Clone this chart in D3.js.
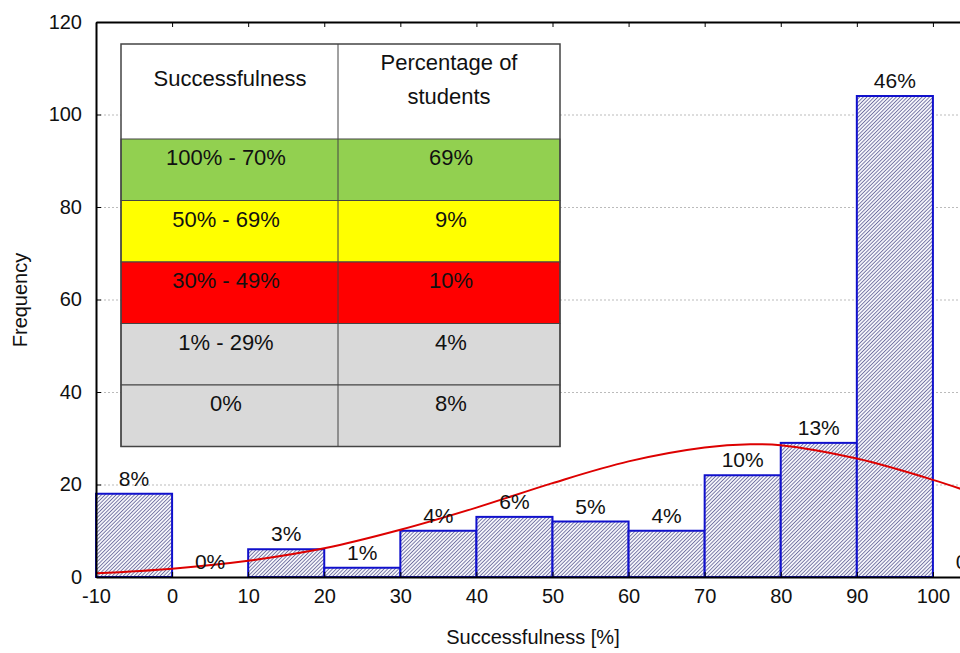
<!DOCTYPE html>
<html>
<head>
<meta charset="utf-8">
<script src="https://cdn.jsdelivr.net/npm/d3@7"></script>
<style>
  body { margin: 0; background: #fff; }
  svg text { font-family: Arial, "Liberation Sans", sans-serif; fill: #111; }
</style>
</head>
<body>
<svg id="chart" width="960" height="653"></svg>
<script>
// histogram bins (lower edge), counts and labels
var binStart = [-10, 0, 10, 20, 30, 40, 50, 60, 70, 80, 90, 100];
var counts   = [18, 0, 6, 2, 10, 13, 12, 10, 22, 29, 104, 0];
var pctLabels = ["8%", "0%", "3%", "1%", "4%", "6%", "5%", "4%", "10%", "13%", "46%", "0%"];

// fitted curve
var curveX = [-10, 0, 10, 20, 30, 40, 50, 60, 70, 76, 80, 90, 100, 110];
var curveY = [0.8, 1.8, 3.5, 6.2, 10.2, 15, 20.3, 25, 28.0, 28.7, 28.5, 25.6, 21, 15.5];

var xTicks = [-10, 0, 10, 20, 30, 40, 50, 60, 70, 80, 90, 100];
var yTicks = [0, 20, 40, 60, 80, 100, 120];

// table inside the plot
var tableHead = ["Successfulness", "Percentage of|students"];
var tableRange = ["100% - 70%", "50% - 69%", "30% - 49%", "1% - 29%", "0%"];
var tablePct = ["69%", "9%", "10%", "4%", "8%"];
var tableColors = ["#92d050", "#ffff00", "#ff0000", "#d9d9d9", "#d9d9d9"];

var svg = d3.select("#chart");
var plotLeft = 96, plotTop = 22, plotBottom = 577;

var x = d3.scaleLinear().domain([-10, 110]).range([plotLeft, 1009]);
var y = d3.scaleLinear().domain([0, 120]).range([plotBottom, plotTop]);

// hatch pattern
var defs = svg.append("defs");
var pat = defs.append("pattern")
	.attr("id", "hatch")
	.attr("patternUnits", "userSpaceOnUse")
	.attr("width", 2.6)
	.attr("height", 2.6)
	.attr("patternTransform", "rotate(45)");
pat.append("rect").attr("width", 2.6).attr("height", 2.6).attr("fill", "#f4f4fa");
pat.append("line")
	.attr("x1", 0).attr("y1", 0).attr("x2", 0).attr("y2", 2.6)
	.attr("stroke", "#24246e")
	.attr("stroke-width", 1.1);

// gridlines
svg.append("g")
	.selectAll("line")
	.data(yTicks.filter(function(d) { return d > 0 && d < 120; }))
	.enter().append("line")
	.attr("x1", plotLeft).attr("x2", 960)
	.attr("y1", function(d) { return y(d) + 0.5; })
	.attr("y2", function(d) { return y(d) + 0.5; })
	.attr("stroke", "#bbb")
	.attr("stroke-dasharray", "2,2");

// bars
svg.append("g")
	.selectAll("rect")
	.data(counts)
	.enter().append("rect")
	.attr("x", function(d, i) { return x(binStart[i]); })
	.attr("y", function(d) { return y(d); })
	.attr("width", function(d, i) { return x(binStart[i] + 10) - x(binStart[i]); })
	.attr("height", function(d) { return plotBottom - y(d); })
	.attr("fill", "url(#hatch)")
	.attr("stroke", function(d) { return d > 0 ? "#1010cc" : "none"; })
	.attr("stroke-width", 2);

// table
var tx0 = 121, tx1 = 338, tx2 = 560;
var headH = 95, rowH = 61.5, ty0 = 44;
var tbl = svg.append("g");
tbl.append("rect")
	.attr("x", tx0).attr("y", ty0)
	.attr("width", tx2 - tx0).attr("height", headH)
	.attr("fill", "#fff");
tbl.selectAll(".row")
	.data(tableRange)
	.enter().append("rect")
	.attr("class", "row")
	.attr("x", tx0)
	.attr("y", function(d, i) { return ty0 + headH + i * rowH; })
	.attr("width", tx2 - tx0)
	.attr("height", rowH)
	.attr("fill", function(d, i) { return tableColors[i]; })
	.attr("stroke", "#444")
	.attr("stroke-width", 1);
tbl.append("rect")
	.attr("x", tx0).attr("y", ty0)
	.attr("width", tx2 - tx0).attr("height", headH + rowH * tableRange.length)
	.attr("fill", "none")
	.attr("stroke", "#444")
	.attr("stroke-width", 1.5);
tbl.append("line")
	.attr("x1", tx1).attr("x2", tx1)
	.attr("y1", ty0).attr("y2", ty0 + headH + rowH * tableRange.length)
	.attr("stroke", "#444");

tbl.append("text")
	.attr("x", 230).attr("y", ty0 + 42)
	.attr("text-anchor", "middle")
	.style("font-size", "22px")
	.text(tableHead[0]);
tableHead[1].split("|").forEach(function(s, i) {
	tbl.append("text")
		.attr("x", 449).attr("y", ty0 + 26 + i * 34)
		.attr("text-anchor", "middle")
		.style("font-size", "22px")
		.text(s);
});
tbl.selectAll(".c1")
	.data(tableRange)
	.enter().append("text")
	.attr("class", "c1")
	.attr("x", 226)
	.attr("y", function(d, i) { return ty0 + headH + i * rowH + 26; })
	.attr("text-anchor", "middle")
	.style("font-size", "22px")
	.text(function(d) { return d; });
tbl.selectAll(".c2")
	.data(tablePct)
	.enter().append("text")
	.attr("class", "c2")
	.attr("x", 451)
	.attr("y", function(d, i) { return ty0 + headH + i * rowH + 26; })
	.attr("text-anchor", "middle")
	.style("font-size", "22px")
	.text(function(d) { return d; });

// fitted curve
var pts = curveX.map(function(d, i) { return [d, curveY[i]]; });
svg.append("path")
	.datum(pts)
	.attr("fill", "none")
	.attr("stroke", "#dd0000")
	.attr("stroke-width", 2)
	.attr("d", d3.line()
		.x(function(d) { return x(d[0]); })
		.y(function(d) { return y(d[1]); })
		.curve(d3.curveCatmullRom));

// bar labels
svg.append("g")
	.selectAll("text")
	.data(counts)
	.enter().append("text")
	.attr("x", function(d, i) { return x(binStart[i] + 5); })
	.attr("y", function(d) { return d > 0 ? y(d) - 8 : plotBottom - 8; })
	.attr("text-anchor", "middle")
	.style("font-size", "21px")
	.text(function(d, i) { return pctLabels[i]; });

// axes
var fmt = function(d) { return String(d); };
var xAxis = d3.axisBottom(x).tickValues(xTicks).tickSizeInner(-5).tickSizeOuter(0).tickPadding(12).tickFormat(fmt);
var gx = svg.append("g").attr("transform", "translate(0," + plotBottom + ")").call(xAxis);
gx.select(".domain").attr("stroke", "#000").attr("stroke-width", 2);
gx.selectAll("text").style("font-size", "20px").attr("fill", "#111");

var gt = svg.append("g").attr("transform", "translate(0," + plotTop + ")")
	.call(d3.axisTop(x).tickValues(xTicks).tickSizeInner(-5).tickSizeOuter(0).tickFormat(""));
gt.select(".domain").attr("stroke", "#000").attr("stroke-width", 2);

var yAxis = d3.axisLeft(y).tickValues(yTicks).tickSizeInner(-5).tickSizeOuter(0).tickPadding(14).tickFormat(fmt);
var gy = svg.append("g").attr("transform", "translate(" + plotLeft + ",0)").call(yAxis);
gy.select(".domain").attr("stroke", "#000").attr("stroke-width", 2);
gy.selectAll("text").style("font-size", "20px").attr("fill", "#111");

// axis titles
svg.append("text")
	.attr("x", 533).attr("y", 644)
	.attr("text-anchor", "middle")
	.style("font-size", "20px")
	.text("Successfulness [%]");
svg.append("text")
	.attr("transform", "translate(27,300) rotate(-90)")
	.attr("text-anchor", "middle")
	.style("font-size", "20px")
	.text("Frequency");
</script>
</body>
</html>
